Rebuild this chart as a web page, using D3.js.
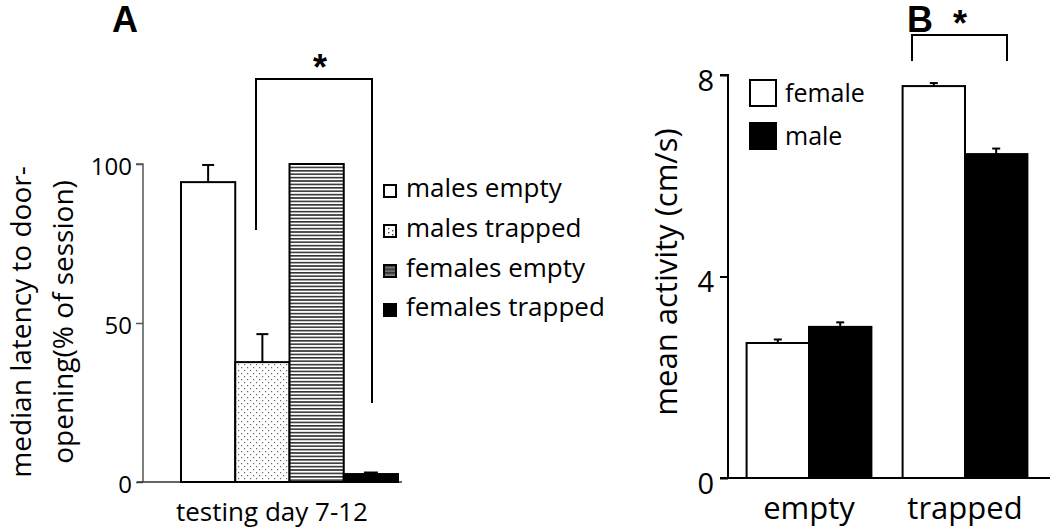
<!DOCTYPE html>
<html><head><meta charset="utf-8">
<script src="https://cdn.jsdelivr.net/npm/d3@7"></script>
<style>body{margin:0;background:#fff}svg{display:block}text{font-family:"Open Sans","Noto Sans",sans-serif;fill:#000}</style>
</head><body><svg id="c" width="1050" height="530"></svg>
<script>
// Panel A data
const groupsA = ["males empty", "males trapped", "females empty", "females trapped"];
const valuesA = [94.3, 37.7, 100, 2.5];
const errorsA = [5.4, 8.8, 0, 0.8];
const ticksA = [0, 50, 100];
// Panel B data
const categoriesB = ["empty", "trapped"];
const seriesB = ["female", "male"];
const femaleB = [2.68, 7.78];
const maleB = [3.0, 6.43];
const femaleErrB = [0.05, 0.04];
const maleErrB = [0.07, 0.09];
const ticksB = [0, 4, 8];

const svg = d3.select("#c");
const defs = svg.append("defs");
// dotted pattern
const pd = defs.append("pattern").attr("id","dots").attr("patternUnits","userSpaceOnUse").attr("width",6).attr("height",6);
pd.append("rect").attr("width",6).attr("height",6).attr("fill","#fff");
pd.append("rect").attr("x",1).attr("y",1).attr("width",1.2).attr("height",1.2).attr("fill","#666");
pd.append("rect").attr("x",4).attr("y",4).attr("width",1.2).attr("height",1.2).attr("fill","#666");
// horizontal lines pattern
const ph = defs.append("pattern").attr("id","hlines").attr("patternUnits","userSpaceOnUse").attr("width",6).attr("height",3.4);
ph.append("rect").attr("width",6).attr("height",3.4).attr("fill","#fff");
ph.append("rect").attr("y",0).attr("width",6).attr("height",1.6).attr("fill","#333");
const fillsA = ["#fff","url(#dots)","url(#hlines)","#000"];

// ---------- Panel A ----------
const yA = d3.scaleLinear().domain([0,100]).range([482,164]);
const xA = d3.scaleBand().domain(groupsA).range([181,398]).padding(0);

const gA = svg.append("g");
gA.append("g").attr("transform","translate(143,0)")
  .call(d3.axisLeft(yA).tickValues(ticksA).tickSize(7).tickPadding(4))
  .call(g=>{g.select(".domain").attr("stroke","#555").attr("stroke-width",1.5).attr("d","M-7,"+yA(100)+"H0V"+yA(0));
    g.selectAll(".tick line").attr("stroke","#555").attr("stroke-width",1.5);
    g.selectAll("text").style("font-size","24px").attr("dy","0.42em");});
gA.append("line").attr("x1",137).attr("x2",402).attr("y1",yA(0)).attr("y2",yA(0)).attr("stroke","#333").attr("stroke-width",1.5);

gA.selectAll("rect.bar").data(groupsA).join("rect").attr("class","bar")
  .attr("x",d=>xA(d)).attr("width",xA.bandwidth())
  .attr("y",(d,i)=>yA(valuesA[i])).attr("height",(d,i)=>yA(0)-yA(valuesA[i]))
  .attr("fill",(d,i)=>fillsA[i]).attr("stroke","#000").attr("stroke-width",2);

groupsA.forEach((d,i)=>{
  if(errorsA[i]<=0) return;
  const cx = xA(d)+xA.bandwidth()/2;
  if(i===3){
    gA.append("rect").attr("x",cx-7).attr("y",yA(valuesA[i]+errorsA[i])).attr("width",14)
      .attr("height",yA(valuesA[i])-yA(valuesA[i]+errorsA[i])).attr("fill","#000");
    return;
  }
  gA.append("line").attr("x1",cx).attr("x2",cx).attr("y1",yA(valuesA[i])).attr("y2",yA(valuesA[i]+errorsA[i])).attr("stroke","#000").attr("stroke-width",2);
  gA.append("line").attr("x1",cx-6).attr("x2",cx+6).attr("y1",yA(valuesA[i]+errorsA[i])).attr("y2",yA(valuesA[i]+errorsA[i])).attr("stroke","#000").attr("stroke-width",2);
});

// bracket A
gA.append("path").attr("d","M256,230V79H372V403").attr("fill","none").attr("stroke","#000").attr("stroke-width",2);
gA.append("text").attr("x",320).attr("y",80).attr("text-anchor","middle").style("font-size","36px").style("font-weight","bold").style("font-family","Liberation Sans, Arial").text("*");

gA.append("text").attr("x",125).attr("y",32).attr("text-anchor","middle").style("font-size","36px").style("font-weight","bold").style("font-family","Liberation Sans, Arial").text("A");

// y label A
const ylA = gA.append("text").attr("transform","translate(0,322) rotate(-90)").attr("text-anchor","middle").style("font-size","28px");
ylA.append("tspan").attr("x",0).attr("y",31).text("median latency  to door-");
ylA.append("tspan").attr("x",0).attr("y",73).text("opening(% of session)");

gA.append("text").attr("x",272).attr("y",521).attr("text-anchor","middle").style("font-size","26px").text("testing day 7-12");

// legend A
const legA = gA.append("g");
const legY = [197, 237, 277, 316];
groupsA.forEach((d,i)=>{
  legA.append("rect").attr("x",384).attr("y",legY[i]-12).attr("width",12).attr("height",12)
    .attr("fill",fillsA[i]==="url(#dots)"?"#fff":fillsA[i]).attr("stroke","#000").attr("stroke-width",2);
  if(i===1){ [[388,-9],[392,-7],[388,-5],[392,-3]].forEach(p=>legA.append("rect").attr("x",p[0]).attr("y",legY[i]+p[1]).attr("width",1.4).attr("height",1.4).attr("fill","#444")); }
  if(i===2){ [-9,-6,-3].forEach(o=>legA.append("line").attr("x1",385).attr("x2",395).attr("y1",legY[i]+o).attr("y2",legY[i]+o).attr("stroke","#222").attr("stroke-width",1.3)); }
  legA.append("text").attr("x",406).attr("y",legY[i]).style("font-size","26px").text(d);
});

// ---------- Panel B ----------
const yB = d3.scaleLinear().domain([0,8]).range([478,75]);
const x0B = d3.scaleBand().domain(categoriesB).range([731,1043]).paddingInner(0.2).paddingOuter(0.1);
const x1B = d3.scaleBand().domain(seriesB).range([0,x0B.bandwidth()]).padding(0);
const valsB = {female: femaleB, male: maleB};
const errsB = {female: femaleErrB, male: maleErrB};
const colB = {female:"#fff", male:"#000"};

const gB = svg.append("g");
gB.append("g").attr("transform","translate(728,0)")
  .call(d3.axisLeft(yB).tickValues(ticksB).tickSize(8).tickPadding(6))
  .call(g=>{g.select(".domain").attr("stroke","#000").attr("stroke-width",2).attr("d","M-8,"+yB(8)+"H0V"+yB(0));
    g.selectAll(".tick line").attr("stroke","#000").attr("stroke-width",2);
    g.selectAll("text").style("font-size","29px").attr("dy","0.52em");});
gB.append("line").attr("x1",720).attr("x2",1050).attr("y1",yB(0)).attr("y2",yB(0)).attr("stroke","#000").attr("stroke-width",2);

categoriesB.forEach((c,ci)=>{
  seriesB.forEach(s=>{
    const v = valsB[s][ci], e = errsB[s][ci];
    const x = x0B(c)+x1B(s), w = x1B.bandwidth();
    gB.append("rect").attr("x",x).attr("width",w).attr("y",yB(v)).attr("height",yB(0)-yB(v))
      .attr("fill",colB[s]).attr("stroke","#000").attr("stroke-width",2);
    const cx = x + w/2;
    gB.append("line").attr("x1",cx).attr("x2",cx).attr("y1",yB(v)).attr("y2",yB(v+e)-1).attr("stroke","#000").attr("stroke-width",2);
    gB.append("line").attr("x1",cx-4).attr("x2",cx+4).attr("y1",yB(v+e)-1).attr("y2",yB(v+e)-1).attr("stroke","#000").attr("stroke-width",2);
  });
  gB.append("text").attr("x",x0B(c)+x0B.bandwidth()/2).attr("y",519).attr("text-anchor","middle").style("font-size","31px").text(c);
});

// bracket B
gB.append("path").attr("d","M912,61V35H1007V61").attr("fill","none").attr("stroke","#000").attr("stroke-width",2);
gB.append("text").attr("x",960).attr("y",36).attr("text-anchor","middle").style("font-size","36px").style("font-weight","bold").style("font-family","Liberation Sans, Arial").text("*");
gB.append("text").attr("x",920).attr("y",32).attr("text-anchor","middle").style("font-size","36px").style("font-weight","bold").style("font-family","Liberation Sans, Arial").text("B");

gB.append("text").attr("transform","translate(677,272) rotate(-90)").attr("text-anchor","middle").style("font-size","31px").text("mean activity (cm/s)");

// legend B
const legBY = [93, 136];
seriesB.forEach((s,i)=>{
  gB.append("rect").attr("x",750).attr("y",legBY[i]-13).attr("width",26).attr("height",26)
    .attr("fill",colB[s]).attr("stroke","#000").attr("stroke-width",2);
  gB.append("text").attr("x",785).attr("y",legBY[i]).attr("dy","0.35em").style("font-size","25px").text(s);
});
</script></body></html>
